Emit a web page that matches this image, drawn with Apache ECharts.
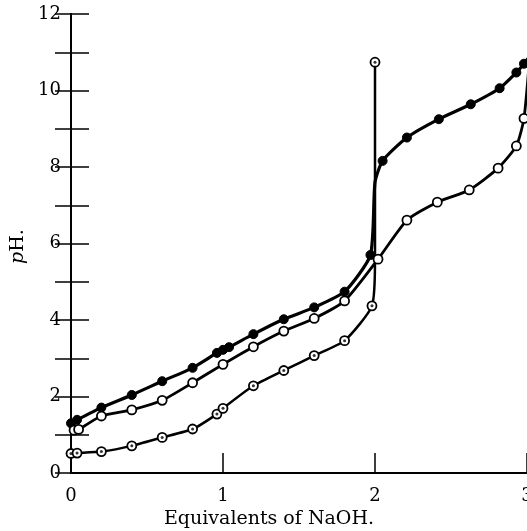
<!DOCTYPE html>
<html>
<head>
<meta charset="utf-8">
<script src="https://cdn.jsdelivr.net/npm/echarts@6/dist/echarts.min.js"></script>
<style>
html,body{margin:0;padding:0;background:#fff;overflow:hidden;}
#c{width:527px;height:531px;}
</style>
</head>
<body>
<div id="c"></div>
<script>
// Data (x: equivalents of NaOH, y: pH)
const filledSeries = [
  [0, 1.30], [0.04, 1.39], [0.2, 1.71], [0.4, 2.04], [0.6, 2.40], [0.8, 2.75],
  [0.96, 3.14], [1.0, 3.22], [1.04, 3.29], [1.2, 3.63], [1.4, 4.02], [1.6, 4.33],
  [1.8, 4.74], [1.97, 5.70], [2.0, 7.6, 'none'], [2.05, 8.16], [2.21, 8.77],
  [2.42, 9.25], [2.63, 9.64], [2.82, 10.06], [2.93, 10.47], [2.98, 10.70], [3.04, 11.0]
];
const openSeries = [
  [0.02, 1.12], [0.05, 1.14], [0.2, 1.49], [0.4, 1.65], [0.6, 1.90], [0.8, 2.36],
  [1.0, 2.84], [1.2, 3.30], [1.4, 3.71], [1.6, 4.04], [1.8, 4.50], [2.02, 5.59],
  [2.21, 6.61], [2.41, 7.08], [2.62, 7.40], [2.81, 7.97], [2.93, 8.55], [2.98, 9.27],
  [3.02, 11.0]
];
const dottedSeries = [
  [0, 0.51], [0.04, 0.52], [0.2, 0.56], [0.4, 0.71], [0.6, 0.93], [0.8, 1.15],
  [0.96, 1.54], [1.0, 1.69], [1.2, 2.28], [1.4, 2.68], [1.6, 3.07], [1.8, 3.46],
  [1.98, 4.37], [2.0, 5.6, 'none'], [2.0, 10.74]
];
const xTickLabels = ['0', '1', '2', '3'];
const yTickLabels = ['0', '', '2', '', '4', '', '6', '', '8', '', '10', '', '12'];
const xName = 'Equivalents of NaOH.';
const yName = '{i|p}H.';

const FONT = 'DejaVu Serif';

function toItems(arr) {
  return arr.map(d => {
    const it = { value: [d[0], d[1]] };
    if (d[2] === 'none') it.symbol = 'none';
    return it;
  });
}

const chart = echarts.init(document.getElementById('c'), null, { renderer: 'canvas' });
const axisLine = { show: true, lineStyle: { color: '#000', width: 2 } };

chart.setOption({
  backgroundColor: '#fff',
  animation: false,
  grid: { left: 71, right: 0, top: 14, bottom: 58, containLabel: false, outerBoundsMode: 'none' },
  xAxis: [{
    type: 'value', min: 0, max: 3, interval: 1, position: 'bottom',
    axisLine: axisLine,
    axisTick: { show: true, inside: true, length: 20, lineStyle: { color: '#000', width: 1.5 } },
    axisLabel: {
      color: '#000', fontFamily: FONT, fontSize: 18, margin: 14,
      formatter: v => xTickLabels[Math.round(v)]
    },
    splitLine: { show: false },
    name: xName, nameLocation: 'middle', nameGap: 37,
    nameTextStyle: { color: '#000', fontFamily: FONT, fontSize: 19, padding: [0, 60, 0, 0] }
  }, {
    type: 'value', min: 0, max: 3, interval: 1, position: 'top',
    axisLine: axisLine, axisTick: { show: false }, axisLabel: { show: false },
    splitLine: { show: false }
  }],
  yAxis: [{
    type: 'value', min: 0, max: 12, interval: 1, position: 'left',
    axisLine: axisLine,
    axisTick: { show: true, inside: true, length: 18, lineStyle: { color: '#000', width: 1.5 } },
    axisLabel: {
      color: '#000', fontFamily: FONT, fontSize: 18, margin: 10,
      formatter: v => yTickLabels[Math.round(v)]
    },
    splitLine: { show: false },
    name: yName, nameLocation: 'middle', nameGap: 37, nameRotate: 90,
    nameTextStyle: {
      color: '#000', fontFamily: FONT, fontSize: 19, padding: [0, 6, 0, 0],
      rich: { i: { fontStyle: 'italic', fontFamily: FONT, fontSize: 19, color: '#000' } }
    }
  }, {
    type: 'value', min: 0, max: 12, interval: 1, position: 'right',
    axisLine: axisLine,
    axisTick: { show: true, inside: true, length: 16, lineStyle: { color: '#000', width: 1.5 } },
    axisLabel: { show: false }, splitLine: { show: false }
  }],
  series: [{
    name: 'filled', type: 'line', data: toItems(filledSeries), smooth: 0.2,
    symbol: 'circle', symbolSize: 9, z: 3,
    lineStyle: { color: '#000', width: 3.2 },
    itemStyle: { color: '#000', borderColor: '#000', borderWidth: 1 }
  }, {
    name: 'open', type: 'line', data: toItems(openSeries), smooth: 0.2,
    symbol: 'circle', symbolSize: 9, z: 3,
    lineStyle: { color: '#000', width: 2.8 },
    itemStyle: { color: '#fff', borderColor: '#000', borderWidth: 1.8 }
  }, {
    name: 'dotted', type: 'line', data: toItems(dottedSeries), smooth: 0.2,
    symbol: 'circle', symbolSize: 9, z: 3,
    lineStyle: { color: '#000', width: 2.5 },
    itemStyle: { color: '#fff', borderColor: '#000', borderWidth: 1.8 }
  }, {
    name: 'dotted-centres', type: 'scatter', z: 4,
    data: dottedSeries.filter(d => d[2] !== 'none').map(d => [d[0], d[1]]),
    symbol: 'circle', symbolSize: 3,
    itemStyle: { color: '#000' }
  }]
});
</script>
</body>
</html>
